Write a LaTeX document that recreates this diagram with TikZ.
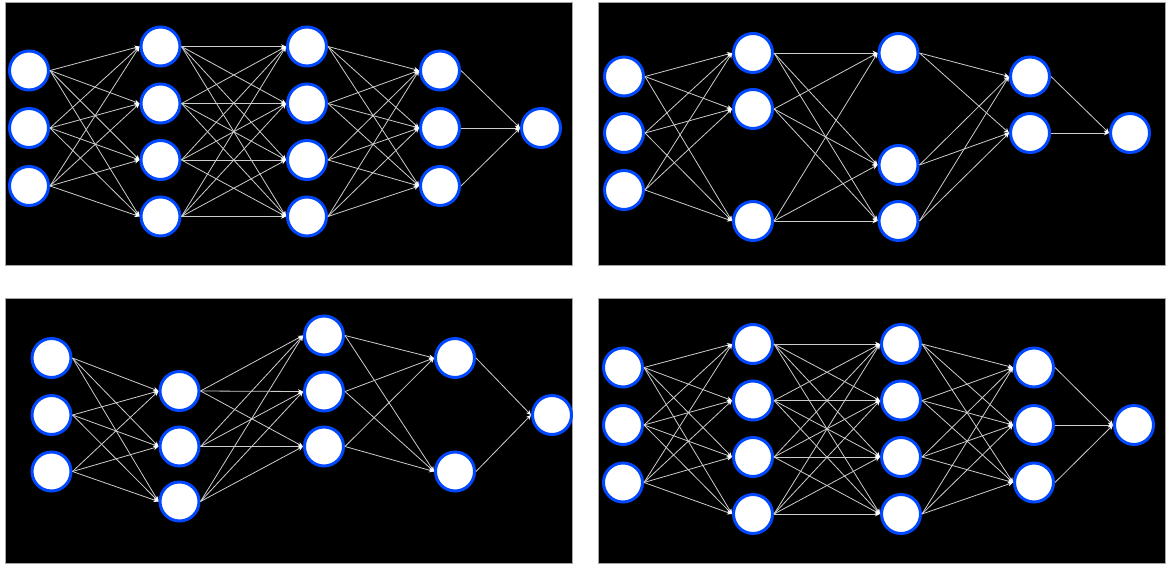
\documentclass[tikz,border=0pt]{standalone}
\usetikzlibrary{arrows.meta}
\definecolor{nblue}{RGB}{0,72,255}
\definecolor{edgecol}{RGB}{205,205,205}
\newcommand\mklayer[3]{\foreach \yy [count=\ii] in {#3} {\node[neuron] (#1-\ii) at (#2,\yy) {};}}
\newcommand\mkconn[4]{\foreach \ii in {1,...,#2} {\foreach \jj in {1,...,#4} {\draw[conn] (#1-\ii.east) -- (#3-\jj.west);}}}
\begin{document}
\begin{tikzpicture}[x=1pt,y=-1pt,
  neuron/.style={circle, draw=nblue, line width=3pt, fill=white, minimum size=39pt, inner sep=0pt, outer sep=1.5pt},
  conn/.style={draw=edgecol, line width=0.8pt, -{Stealth[length=5pt,width=4.5pt,color=white]}},
  panel/.style={fill=black, draw=gray!70, line width=0.6pt}]
\useasboundingbox (0,0) rectangle (1174,570);
\fill[white] (0,0) rectangle (1174,570);
\path[panel] (5,2) rectangle (572,265);
\path[panel] (598,2) rectangle (1165,265);
\path[panel] (5,298) rectangle (572,563);
\path[panel] (598,298) rectangle (1165,563);
% panel 1 (top-left)
\mklayer{a1}{29}{70.5,128,186}
\mklayer{a2}{160.5}{46.5,103.5,160,216.5}
\mklayer{a3}{307}{46.5,103.5,160,216.5}
\mklayer{a4}{440}{70.5,128,186}
\mklayer{a5}{541}{128}
\mkconn{a1}{3}{a2}{4}
\mkconn{a2}{4}{a3}{4}
\mkconn{a3}{4}{a4}{3}
\mkconn{a4}{3}{a5}{1}
% panel 2 (top-right)
\mklayer{b1}{624}{76.5,133,190}
\mklayer{b2}{753}{53,109,221}
\mklayer{b3}{898.5}{53,165,221}
\mklayer{b4}{1030}{76.5,133}
\mklayer{b5}{1130}{133}
\mkconn{b1}{3}{b2}{3}
\mkconn{b2}{3}{b3}{3}
\mkconn{b3}{3}{b4}{2}
\mkconn{b4}{2}{b5}{1}
% panel 3 (bottom-left)
\mklayer{c1}{51.5}{358,415,471.5}
\mklayer{c2}{179.5}{391,446.5,501.5}
\mklayer{c3}{324}{335.5,391.5,446.5}
\mklayer{c4}{455}{358,471.5}
\mklayer{c5}{552}{415}
\mkconn{c1}{3}{c2}{3}
\mkconn{c2}{3}{c3}{3}
\mkconn{c3}{3}{c4}{2}
\mkconn{c4}{2}{c5}{1}
% panel 4 (bottom-right)
\mklayer{d1}{623}{367.5,425,482.5}
\mklayer{d2}{753}{344,400.5,457,514}
\mklayer{d3}{901}{344,400.5,457,514}
\mklayer{d4}{1034}{367.5,425,482.5}
\mklayer{d5}{1134}{425}
\mkconn{d1}{3}{d2}{4}
\mkconn{d2}{4}{d3}{4}
\mkconn{d3}{4}{d4}{3}
\mkconn{d4}{3}{d5}{1}
\end{tikzpicture}
\end{document}
